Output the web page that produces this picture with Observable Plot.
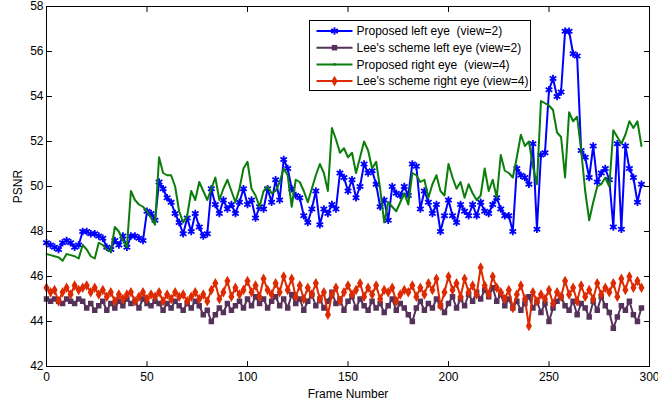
<!DOCTYPE html>
<html><head><meta charset="utf-8">
<script src="https://cdn.jsdelivr.net/npm/d3@7"></script>
<script src="https://cdn.jsdelivr.net/npm/@observablehq/plot@0.6"></script>
<style>
body{margin:0;background:#fff;}
#chart{position:relative;width:658px;height:401px;}
</style></head><body><div id="chart"></div>
<script>
// frame numbers (every 2nd frame)
const frames = d3.range(0, 297, 2);

const proposedLeft = [
47.5,47.4,47.3,47.2,47.5,47.6,47.5,47.3,47.4,48.0,
48.0,47.9,47.9,47.8,47.7,47.3,47.2,47.6,47.4,47.8,
47.3,47.8,47.8,47.7,47.6,48.9,48.8,48.5,50.2,49.9,
49.5,49.3,48.8,48.4,47.9,48.6,48.0,48.8,48.2,47.8,
47.9,49.9,49.2,48.8,49.4,49.0,49.2,48.8,49.3,49.9,
49.2,49.4,48.6,49.1,49.0,49.9,49.3,50.3,49.4,51.2,
50.8,49.9,49.6,49.5,48.7,48.4,49.0,49.8,48.3,49.0,
48.8,49.2,49.0,50.6,50.4,49.8,50.3,49.5,50.0,51.0,
50.6,50.7,50.1,49.1,49.4,48.5,50.0,49.7,49.6,50.0,
49.6,51.0,50.9,49.0,49.8,49.3,48.8,49.2,48.0,48.7,
49.4,48.7,48.4,49.2,48.9,48.7,49.2,48.7,49.3,48.9,
48.8,49.2,49.5,49.0,48.7,48.7,48.0,50.8,50.5,50.4,
50.1,51.9,48.1,51.4,51.5,54.3,54.8,54.0,54.2,56.9,
56.9,55.9,55.8,51.6,51.3,50.4,51.8,50.2,50.6,50.8,
50.3,48.2,51.9,48.1,51.8,50.8,50.4,49.3,50.1];

const leeLeft = [
45.0,44.9,45.0,44.9,44.8,45.0,44.9,44.8,45.0,44.9,
44.6,44.8,44.5,44.7,44.9,44.5,44.8,44.6,44.9,44.7,
45.0,44.8,44.9,44.6,45.0,44.8,44.7,44.9,44.8,44.5,
44.8,44.6,44.9,44.7,44.5,44.8,44.6,44.9,44.7,44.3,
44.5,44.0,44.3,44.6,44.4,44.8,44.5,44.7,44.9,44.6,
45.0,44.7,45.1,44.8,45.0,44.6,44.9,45.1,44.7,45.0,
44.6,45.2,44.8,45.0,44.5,44.9,45.2,44.7,45.0,44.6,
44.9,45.3,44.8,45.0,44.5,44.9,45.1,44.6,45.0,44.7,
44.5,44.9,44.6,44.8,44.4,44.7,45.0,44.5,44.8,44.6,
44.3,44.0,44.6,44.9,44.5,44.8,44.6,45.0,44.7,44.4,
44.8,45.1,44.6,45.0,44.7,45.2,44.9,45.3,45.0,45.4,
45.1,45.5,44.9,45.2,44.7,45.0,44.6,44.9,44.5,44.8,
45.1,44.6,44.9,44.4,44.8,44.0,44.6,44.9,45.1,44.7,
44.5,44.9,44.3,44.8,44.6,44.2,44.9,44.5,45.1,44.7,
44.4,43.7,44.2,44.7,44.5,44.9,44.3,44.0,44.6];

const proposedRight = [
47.0,46.95,46.9,46.85,46.7,47.0,46.95,46.9,46.8,47.4,
47.2,46.9,46.8,47.5,47.4,47.2,47.1,48.2,48.0,47.6,
47.3,49.8,49.4,49.2,49.1,48.9,48.6,48.3,51.3,50.6,
50.5,50.5,50.0,48.9,48.4,48.7,49.8,49.4,50.2,49.8,
49.4,49.9,50.4,49.4,49.9,50.3,49.8,49.3,49.9,50.8,
51.1,49.9,49.6,49.1,49.8,50.0,49.7,49.8,50.2,50.8,
50.5,49.1,50.3,50.2,49.8,49.3,49.9,50.5,51.0,50.6,
49.8,52.6,52.1,51.5,51.7,51.3,51.5,50.6,51.3,52.0,
51.6,50.8,51.1,49.9,48.4,49.3,49.1,48.9,49.3,49.7,
49.2,50.6,50.5,50.2,50.3,49.5,50.1,50.5,49.8,49.6,
51.0,50.4,49.9,50.2,49.5,50.1,49.7,49.4,49.6,50.8,
49.8,50.3,49.5,51.4,50.7,50.6,50.4,51.3,52.3,51.8,
52.0,50.9,50.1,53.8,53.7,53.6,53.4,52.4,52.2,50.4,
53.3,52.9,53.1,51.6,49.8,48.5,49.3,50.0,50.1,50.4,
50.0,52.5,52.2,51.9,52.3,52.9,52.6,52.9,51.8];

const leeRight = [
45.5,45.3,45.4,44.9,45.3,45.5,45.2,45.6,45.4,45.5,
45.6,45.3,45.5,45.2,45.4,45.1,45.3,44.9,45.2,45.0,
45.2,45.3,44.9,45.1,45.3,45.0,45.2,45.1,45.3,44.9,
45.2,45.0,45.3,45.1,45.2,44.9,45.1,45.3,45.0,45.2,
44.9,45.4,45.7,45.0,45.3,45.8,45.1,45.5,45.2,45.4,
45.8,45.3,45.6,45.1,45.9,45.4,45.2,45.7,45.3,46.0,
45.4,45.9,45.1,45.6,45.0,45.5,45.2,45.7,45.0,45.3,
44.3,45.2,45.5,44.9,45.3,45.6,45.2,45.4,45.7,45.1,
45.5,45.2,45.6,45.0,45.4,45.3,45.5,44.9,45.2,45.4,
45.3,45.6,45.1,45.5,45.2,45.7,45.4,45.9,44.7,45.3,
46.0,45.4,45.7,45.1,45.9,45.3,45.6,45.2,46.4,45.6,
45.2,46.0,45.5,45.3,45.0,45.4,44.6,45.2,45.6,45.0,
43.8,45.3,44.9,45.2,45.0,45.4,44.8,45.3,45.1,45.8,
45.2,45.5,44.9,45.6,45.1,45.4,45.0,45.7,45.2,45.5,
45.3,45.7,45.1,45.9,45.4,46.0,45.5,45.8,45.5];

const xTicks = [0, 50, 100, 150, 200, 250, 300];
const yTicks = [42, 44, 46, 48, 50, 52, 54, 56, 58];
const seriesNames = [
  "Proposed left eye  (view=2)",
  "Lee's scheme left eye (view=2)",
  "Proposed right eye  (view=4)",
  "Lee's scheme right eye (view=4)"
];
const seriesColors = ["#0000ff", "#56325a", "#0a7d0a", "#dd2a00"];
const seriesSymbols = ["asterisk", "square", null, "diamond"];
const seriesValues = [proposedLeft, leeLeft, proposedRight, leeRight];

const rows = seriesValues.map((vals, s) => vals.map((v, i) => ({frame: frames[i], psnr: v, s})));

const tickShape = {draw(ctx, l) { ctx.moveTo(0, 0); ctx.lineTo(0, -l); }};
const tickOpts = {length: 5, anchor: "start", shape: tickShape, stroke: "black", strokeWidth: 1};

const font = "'Liberation Sans', Arial, Helvetica, sans-serif";

const symR = {asterisk: 3.6, square: 3.1, diamond: 3.2};

const seriesMarks = [];
for (const s of [0, 1, 2, 3]) {
  seriesMarks.push(Plot.line(rows[s], {x: "frame", y: "psnr", stroke: seriesColors[s], strokeWidth: 2}));
  const sym = seriesSymbols[s];
  if (sym === "asterisk") {
    seriesMarks.push(Plot.dot(rows[s], {x: "frame", y: "psnr", symbol: "asterisk", r: symR.asterisk, stroke: seriesColors[s], strokeWidth: 1.8}));
  } else if (sym) {
    seriesMarks.push(Plot.dot(rows[s], {x: "frame", y: "psnr", symbol: sym, r: symR[sym], fill: seriesColors[s], stroke: "none"}));
  }
}

const chart = Plot.plot({
  width: 658, height: 401,
  marginLeft: 46, marginRight: 9, marginTop: 6, marginBottom: 35,
  style: {fontFamily: font, fontSize: "12px", background: "white", color: "black", overflow: "visible"},
  x: {domain: [0, 300], ticks: xTicks},
  y: {domain: [42, 58], ticks: yTicks},
  marks: [
    ...seriesMarks,
    Plot.frame({stroke: "black", strokeWidth: 1}),
    Plot.vector(xTicks, {x: d => d, frameAnchor: "bottom", rotate: 0, ...tickOpts}),
    Plot.vector(xTicks, {x: d => d, frameAnchor: "top", rotate: 180, ...tickOpts}),
    Plot.vector(yTicks, {y: d => d, frameAnchor: "left", rotate: 90, ...tickOpts}),
    Plot.vector(yTicks, {y: d => d, frameAnchor: "right", rotate: -90, ...tickOpts}),
    Plot.axisX(xTicks, {tickSize: 0, tickPadding: 6, label: "Frame Number", labelAnchor: "center", labelOffset: 31, labelArrow: "none", fontSize: 12}),
    Plot.axisY(yTicks, {tickSize: 0, tickPadding: 3, label: "PSNR", labelAnchor: "center", labelOffset: 33, labelArrow: "none", fontSize: 12})
  ]
});
document.getElementById("chart").appendChild(chart);

// Legend inside the axes (top right)
const svg = d3.select(chart);
const lg = svg.append("g").attr("transform", "translate(309.5,20.5)").attr("text-anchor", "start");
lg.append("rect").attr("width", 221).attr("height", 70).attr("fill", "white").attr("stroke", "black").attr("stroke-width", 1);
seriesNames.forEach((name, i) => {
  const y = 10.5 + i * 16.7;
  const g = lg.append("g").attr("transform", `translate(0,${y})`);
  g.append("line").attr("x1", 7).attr("x2", 43).attr("y1", 0).attr("y2", 0).attr("stroke", seriesColors[i]).attr("stroke-width", 2);
  const sym = seriesSymbols[i];
  if (sym === "asterisk") {
    g.append("path").attr("transform", "translate(25,0)").attr("d", d3.symbol(d3.symbolAsterisk, symR.asterisk ** 2 * Math.PI)()).attr("fill", "none").attr("stroke", seriesColors[i]).attr("stroke-width", 1.8);
  } else if (sym === "square") {
    g.append("path").attr("transform", "translate(25,0)").attr("d", d3.symbol(d3.symbolSquare, symR.square ** 2 * Math.PI)()).attr("fill", seriesColors[i]);
  } else if (sym === "diamond") {
    g.append("path").attr("transform", "translate(25,0)").attr("d", d3.symbol(d3.symbolDiamond, symR.diamond ** 2 * Math.PI)()).attr("fill", seriesColors[i]);
  } else {
    g.append("circle").attr("cx", 25).attr("cy", 0).attr("r", 1.3).attr("fill", seriesColors[i]);
  }
  g.append("text").attr("x", 47).attr("y", 0).attr("dy", "0.35em").attr("text-anchor", "start").attr("font-family", font).attr("font-size", 12).attr("fill", "black").style("white-space", "pre").text(name);
});
</script>
</body></html>
